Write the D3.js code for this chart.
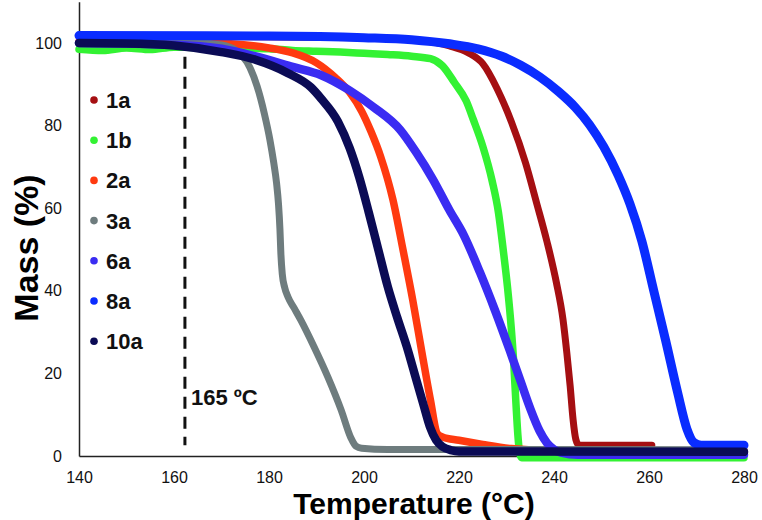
<!DOCTYPE html>
<html>
<head>
<meta charset="utf-8">
<script src="https://cdn.jsdelivr.net/npm/d3@7"></script>
<style>
  html, body { margin: 0; padding: 0; background: #fff; }
  svg { display: block; font-family: "Liberation Sans", Arial, Helvetica, sans-serif; }
</style>
</head>
<body>
<svg id="chart" width="762" height="520"></svg>
<script>
// ---- data (temperature °C, mass %) ----
const seriesNames = ["1a", "1b", "2a", "3a", "6a", "8a", "10a"];
const seriesColors = ["#a50f12", "#33f233", "#ff3a10", "#6e7c7e", "#3a2cf2", "#0a2cff", "#0b0b55"];
const seriesWidths = [7, 7.5, 7.5, 7, 8.5, 9, 8.5];

const data1a = [[140,101.6],[170,101.6],[200,101.3],[212,100.6],[218,99.3],[222,97.6],[225,95],[228,89],[231,81],[234,71],[236.4,61],[238.5,52],[240.5,42],[241.9,33],[242.7,25],[243.4,17],[244,9],[244.6,4],[245.2,2.7],[246,2.6],[260.6,2.6]];
const data1b = [[140,98.5],[145,98.2],[150,98.8],[155,98.4],[160,99.0],[165,98.9],[170,99.3],[175,98.8],[180,98.6],[185,98.2],[190,98.0],[195,97.8],[200,97.5],[205,97.2],[210,96.8],[214,96.2],[216.5,94.5],[219,90.5],[221.5,86],[223,81.5],[225,75],[227,66.5],[228.3,59],[229.3,50],[230.2,41],[231,31],[231.5,23],[232,12.5],[232.4,5],[232.8,0.5],[233.2,-0.4],[280,-0.4]];
const data2a = [[140,100.3],[160,100.2],[172,99.8],[180,98.8],[185,97.6],[190,95.2],[194,91.6],[197,88],[199.5,83.5],[201.5,78.5],[203.5,72.5],[206.1,62],[208.2,50],[210.3,37.5],[212.2,25],[214,13.5],[215.4,5.5],[216.5,4.6],[220,3.8],[225,2.8],[231,1.8],[240,1.3],[280,1.2]];
const data3a = [[140,100],[165,100],[170,99.5],[173,98.2],[176,94],[177.5,89.5],[179,83],[180.2,76.5],[181,71],[181.6,66],[182,61],[182.3,55],[182.5,49],[182.8,44],[183.3,40.8],[184,38.5],[185.3,35.8],[186.7,32.9],[189.5,26.4],[192.4,19.1],[195.2,11.1],[197.2,4.5],[198.3,2.4],[199.5,1.9],[205,1.6],[280,1.5]];
const data6a = [[140,100],[160,99.6],[170,98.6],[177,96.8],[185,94.2],[191,92.2],[197,88.5],[202,84.5],[207.6,79],[211,73.5],[214.5,67],[218,59.5],[221,53.5],[224.4,44.5],[227.5,35.5],[230.7,25.5],[233,18],[235,11.5],[237,6],[238.5,3.2],[240,1.6],[241.5,0.8],[245,0.3],[280,0.3]];
const data8a = [[140,101.8],[180,101.7],[200,101.3],[210,100.8],[218,99.8],[224,98.6],[229,96.8],[233,94.6],[237,91.8],[241,88.2],[244.5,84.4],[247.5,80.2],[250.5,74.8],[253.5,68],[256,61],[258.5,52],[261,40],[263.5,28],[266,15.5],[268,6.5],[269.5,3.2],[271,2.6],[280,2.6]];
const data10a = [[140,100],[150,99.9],[160,99.4],[170,97.8],[177,96],[184,92.7],[188.8,89.3],[191,86.5],[194.5,81],[197,74.5],[199,67.5],[201,59],[203,50],[205,41],[207,33.5],[209,26.5],[211,18.5],[212.5,12.5],[213.9,7],[215.2,3.8],[216.6,2.2],[218.3,1.4],[220,1.1],[280,1.0]];
const seriesData = [data1a, data1b, data2a, data3a, data6a, data8a, data10a];

const xTicks = [140, 160, 180, 200, 220, 240, 260, 280];
const yTicks = [0, 20, 40, 60, 80, 100];
const markerTemp = 162.3;
const markerLabel = "165 ºC";
const xTitle = "Temperature (°C)";
const yTitle = "Mass (%)";

// ---- drawing ----
const svg = d3.select("#chart");
const x = d3.scaleLinear().domain([140, 280]).range([79, 744]);
const y = d3.scaleLinear().domain([0, 110]).range([456, 1.7]);

// axes
const xAxis = svg.append("g").attr("transform", `translate(0,${y(0)})`)
  .call(d3.axisBottom(x).tickValues(xTicks).tickSize(0).tickPadding(15.5).tickFormat(d3.format("d")));
const yAxis = svg.append("g").attr("transform", `translate(${x(140)},0)`)
  .call(d3.axisLeft(y).tickValues(yTicks).tickSize(0).tickPadding(17).tickFormat(d3.format("d")));
[xAxis, yAxis].forEach(g => {
  g.select(".domain").attr("stroke", "#222").attr("stroke-width", 1.5);
  g.selectAll("text").attr("font-size", 16).attr("fill", "#111")
    .attr("font-family", "'Liberation Sans', Arial, sans-serif");
});

// dashed marker line
svg.append("line")
  .attr("x1", x(markerTemp)).attr("x2", x(markerTemp))
  .attr("y1", y(101.5)).attr("y2", y(2.6))
  .attr("stroke", "#111").attr("stroke-width", 3).attr("stroke-dasharray", "12,8");
svg.append("text")
  .attr("x", x(markerTemp) + 6).attr("y", 405)
  .attr("font-size", 22).attr("font-weight", "bold").attr("fill", "#111")
  .text(markerLabel);

// series
const line = d3.line().x(d => x(d[0])).y(d => y(d[1])).curve(d3.curveMonotoneX);
seriesData.forEach((s, i) => {
  svg.append("path").datum(s)
    .attr("d", line)
    .attr("fill", "none")
    .attr("stroke", seriesColors[i])
    .attr("stroke-width", seriesWidths[i])
    .attr("stroke-linecap", "round")
    .attr("stroke-linejoin", "round");
});

// legend
const leg = svg.append("g");
seriesNames.forEach((n, i) => {
  const cy = 100 + i * 40.2;
  leg.append("circle").attr("cx", 94).attr("cy", cy).attr("r", 3.8).attr("fill", seriesColors[i]);
  leg.append("text").attr("x", 106).attr("y", cy).attr("dy", "0.36em")
    .attr("font-size", 22).attr("font-weight", "bold").attr("fill", "#111").text(n);
});

// titles
svg.append("text").attr("x", 414).attr("y", 514).attr("text-anchor", "middle")
  .attr("font-size", 30).attr("font-weight", "bold").attr("fill", "#000").text(xTitle);
svg.append("text").attr("transform", "translate(38,248) rotate(-90)").attr("text-anchor", "middle")
  .attr("font-size", 34).attr("font-weight", "bold").attr("fill", "#000").text(yTitle);
</script>
</body>
</html>
